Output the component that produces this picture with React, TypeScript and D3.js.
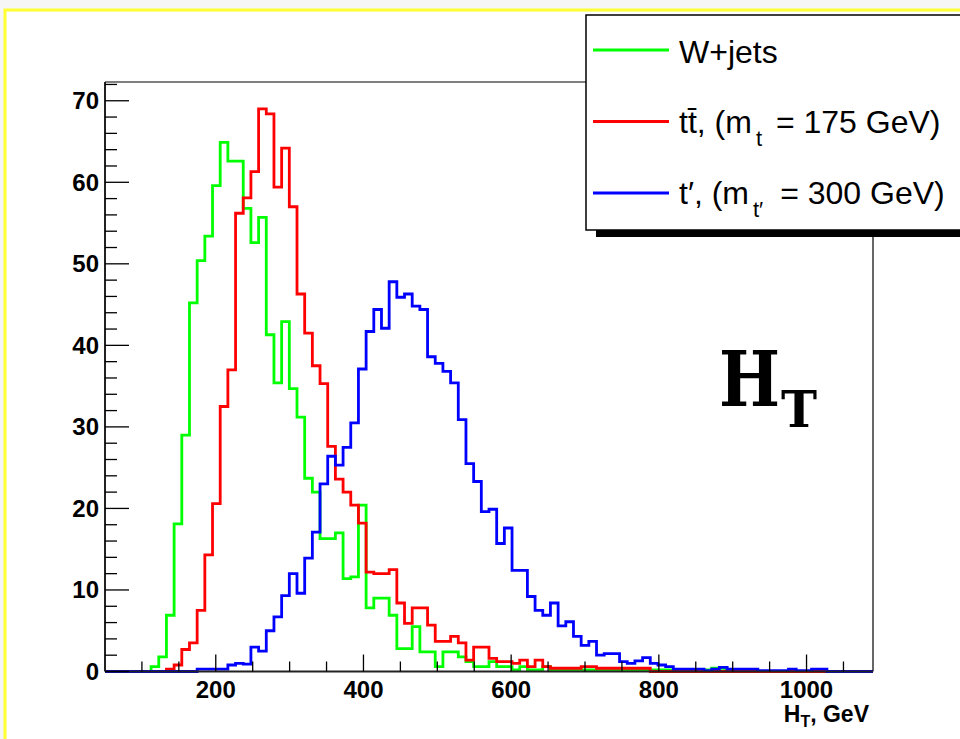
import React from "react";
import * as d3 from "d3";

// ---- data (10.4 GeV bins starting at 50 GeV, 100 bins) ----
const binStart = 50;
const binWidth = 10.4;
const nBins = 100;

const wjets: number[] = [
  0, 0, 0, 0, 0, 0, 0.6, 1.8, 6.9, 18.1,
  29.0, 45.2, 50.4, 53.4, 59.6, 64.9, 62.6, 62.6, 56.8, 52.6,
  55.7, 41.3, 35.4, 42.9, 34.7, 31.2, 23.7, 22.0, 16.3, 16.3,
  17.0, 11.4, 11.6, 20.4, 7.8, 9.0, 9.0, 6.9, 2.8, 2.8,
  5.5, 2.4, 2.4, 0.6, 2.4, 2.4, 1.8, 1.2, 0.6, 0.6,
  1.2, 0.6, 0.6, 0.2, 0.6, 0.2, 0.2, 0.6, 0.2, 0.2,
  0.2, 0.2, 0.2, 0.2, 0.2, 0.2, 0.2, 0.2, 0.2, 0.2,
  0.2, 0.2, 0.2, 0.2, 0.2, 0.2, 0.2, 0.2, 0.2, 0.4,
  0.4, 0.2, 0.2, 0.2, 0.2, 0, 0, 0, 0, 0,
  0, 0, 0, 0, 0, 0, 0, 0, 0, 0,
];

const ttbar: number[] = [
  0, 0, 0, 0, 0, 0, 0, 0, 0.3, 0.8,
  2.7, 3.5, 7.5, 14.3, 20.6, 32.5, 37.0, 56.2, 58.1, 61.3,
  69.0, 68.4, 59.4, 64.2, 57.0, 46.3, 41.5, 37.5, 35.3, 27.6,
  23.6, 22.0, 20.4, 18.2, 12.2, 12.0, 12.0, 12.5, 8.4, 5.9,
  7.8, 7.8, 5.7, 3.7, 3.7, 4.3, 3.5, 1.4, 3.0, 3.0,
  1.6, 1.2, 1.2, 1.0, 1.4, 0.6, 1.4, 0.6, 0.4, 0.4,
  0.4, 0.4, 0.6, 0.6, 0.4, 0.4, 0.4, 0.4, 0.4, 0.4,
  0.4, 0, 0, 0, 0, 0, 0, 0, 0, 0,
  0, 0, 0, 0, 0, 0, 0, 0, 0, 0,
  0, 0, 0, 0, 0, 0, 0, 0, 0, 0,
];

const tprime: number[] = [
  0, 0, 0, 0, 0, 0, 0, 0, 0, 0,
  0, 0, 0.3, 0.3, 0.3, 0.3, 0.8, 1.0, 0.9, 3.0,
  2.5, 5.0, 6.7, 9.3, 12.0, 9.6, 13.9, 17.1, 23.0, 26.4,
  25.3, 27.5, 30.5, 37.1, 41.7, 44.4, 42.1, 47.8, 45.9, 46.3,
  44.8, 44.4, 38.6, 37.8, 36.8, 35.4, 30.9, 25.5, 23.3, 19.6,
  19.9, 15.7, 17.6, 12.4, 12.4, 9.2, 7.5, 6.9, 8.4, 5.6,
  6.1, 4.3, 3.2, 3.7, 2.0, 2.2, 2.2, 1.2, 1.0, 1.3,
  1.7, 1.0, 0.8, 0.6, 0.3, 0.3, 0.3, 0.3, 0.1, 0.3,
  0.5, 0.3, 0.3, 0.3, 0.3, 0.1, 0.1, 0.1, 0.1, 0.3,
  0.1, 0.1, 0.3, 0.3, 0, 0, 0, 0, 0, 0,
];

const seriesNames = ["W+jets", "ttbar", "tprime"];
const seriesColors = ["#00ff00", "#ff0000", "#0000ff"];
const xMajorTicks = [200, 400, 600, 800, 1000];
const yMajorTicks = [0, 10, 20, 30, 40, 50, 60, 70];

const FONT = "'Liberation Sans', Arial, Helvetica, sans-serif";

export default function App() {
  const x = d3.scaleLinear().domain([50, 1090]).range([105, 873]);
  const y = d3.scaleLinear().domain([0, 72.3]).range([671.5, 82]);

  const edges = d3.range(nBins + 1).map((i) => binStart + i * binWidth);
  const stepPath = (vals: number[]) => {
    const pts: [number, number][] = vals.map((v, i) => [edges[i], v]);
    pts.push([edges[nBins], vals[nBins - 1]]);
    return d3
      .line<[number, number]>()
      .x((d) => x(d[0]))
      .y((d) => y(d[1]))
      .curve(d3.curveStepAfter)(pts) as string;
  };

  const xMinor = d3.range(100, 1051, 50).filter((v) => v % 200 !== 0);
  const yMinor = d3.range(2, 73, 2).filter((v) => v % 10 !== 0);
  const data = [wjets, ttbar, tprime];

  const x0 = 105, x1 = 873, yTop = 82, yBot = 671.5;

  return (
    <svg
      width={960}
      height={739}
      style={{ position: "absolute", left: 0, top: 0, display: "block" }}
    >
      <rect x={0} y={0} width={960} height={739} fill="#f6f6f6" />
      <rect x={5} y={10} width={1000} height={800} fill="#ffffff" stroke="#ffff33" strokeWidth={3} />

      {/* frame */}
      <line x1={x0} y1={yTop} x2={x1} y2={yTop} stroke="#000" strokeWidth={1.2} />
      <line x1={x1} y1={yTop} x2={x1} y2={yBot} stroke="#000" strokeWidth={1.2} />

      {/* histograms */}
      {data.map((vals, i) => (
        <path
          key={seriesNames[i]}
          d={stepPath(vals)}
          fill="none"
          stroke={seriesColors[i]}
          strokeWidth={2.8}
          strokeLinejoin="miter"
        />
      ))}

      {/* axes */}
      <line x1={x0} y1={yTop} x2={x0} y2={yBot} stroke="#222" strokeWidth={2} />
      <line x1={x0} y1={yBot} x2={x1} y2={yBot} stroke="#222" strokeWidth={1.8} />

      {xMajorTicks.map((v) => (
        <g key={"xm" + v}>
          <line x1={x(v)} x2={x(v)} y1={yBot} y2={yBot - 17} stroke="#000" strokeWidth={1.3} />
          <text
            x={x(v)}
            y={698}
            textAnchor="middle"
            fontFamily={FONT}
            fontWeight="bold"
            fontSize={24}
          >
            {v}
          </text>
        </g>
      ))}
      {xMinor.map((v) => (
        <line key={"xn" + v} x1={x(v)} x2={x(v)} y1={yBot} y2={yBot - 10} stroke="#000" strokeWidth={1.3} />
      ))}

      {yMajorTicks.map((v) => (
        <g key={"ym" + v}>
          <line x1={x0} x2={x0 + 24} y1={y(v)} y2={y(v)} stroke="#000" strokeWidth={1.3} />
          <text
            x={99}
            y={y(v) + 8.5}
            textAnchor="end"
            fontFamily={FONT}
            fontWeight="bold"
            fontSize={24}
          >
            {v}
          </text>
        </g>
      ))}
      {yMinor.map((v) => (
        <line key={"yn" + v} x1={x0} x2={x0 + 12} y1={y(v)} y2={y(v)} stroke="#000" strokeWidth={1.3} />
      ))}

      {/* axis title */}
      <text x={869} y={722} textAnchor="end" fontFamily={FONT} fontWeight="bold" fontSize={23}>
        H<tspan fontSize={16} dy={5}>T</tspan>
        <tspan dy={-5}>, GeV</tspan>
      </text>

      {/* big H_T label */}
      <text
        transform="translate(719,406) scale(0.85,1)"
        fontFamily="'DejaVu Serif', serif"
        fontWeight="bold"
        fontSize={76}
      >
        H
      </text>
      <text
        transform="translate(781,427) scale(0.95,1)"
        fontFamily="'DejaVu Serif', serif"
        fontWeight="bold"
        fontSize={51}
      >
        T
      </text>

      {/* legend */}
      <rect x={596} y={22} width={400} height={215} fill="#000" />
      <rect x={586} y={15} width={400} height={215} fill="#fff" stroke="#000" strokeWidth={1.5} />
      {seriesColors.map((c, i) => (
        <line key={"ll" + i} x1={593} x2={669} y1={50 + i * 71.5} y2={50 + i * 71.5} stroke={c} strokeWidth={3} />
      ))}
      <text x={679} y={63} fontFamily={FONT} fontSize={32}>
        W+jets
      </text>
      <text x={679} y={133} fontFamily={FONT} fontSize={32}>
        {"tt\u0304, (m"}
        <tspan fontSize={22} dy={13} dx={4}>t</tspan>
        <tspan dy={-13} dx={5}>{" = 175 GeV)"}</tspan>
      </text>
      <text x={679} y={204} fontFamily={FONT} fontSize={32}>
        {"t\u2032, (m"}
        <tspan fontSize={22} dy={13} dx={4}>{"t\u2032"}</tspan>
        <tspan dy={-13} dx={8}>{" = 300 GeV)"}</tspan>
      </text>
    </svg>
  );
}
